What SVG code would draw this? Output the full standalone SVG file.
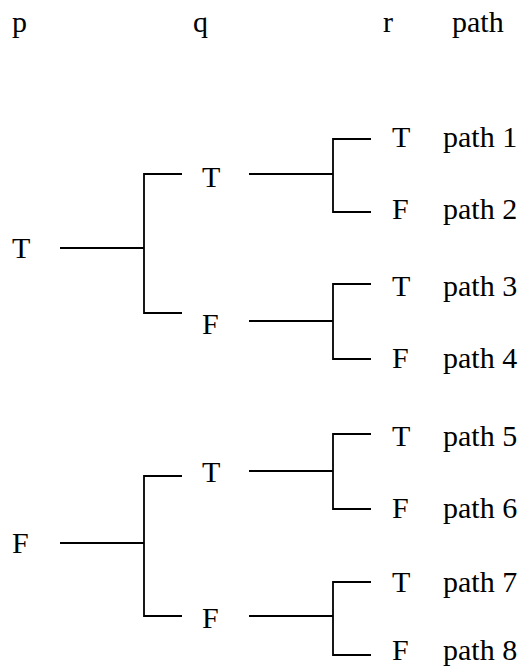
<svg xmlns="http://www.w3.org/2000/svg" width="525" height="668" viewBox="0 0 525 668">
<style>
.c path{fill:none;stroke:#000;stroke-width:1.8}
</style>
<rect width="525" height="668" fill="#fff"/>
<g font-family="Liberation Serif, DejaVu Serif, serif" font-size="30" fill="#000">
<g id="header">
<text x="12" y="32">p</text>
<text x="193" y="32">q</text>
<text x="383" y="32">r</text>
<text x="452" y="32">path</text>
</g>
<g id="pT"><text x="12" y="258">T</text></g>
<g id="pF"><text x="12" y="553">F</text></g>
<g id="qTT"><text x="202" y="187">T</text></g>
<g id="qTF"><text x="202" y="334">F</text></g>
<g id="qFT"><text x="202" y="482">T</text></g>
<g id="qFF"><text x="202" y="628">F</text></g>
<g id="r1"><text x="392" y="147">T</text><text x="443" y="147">path 1</text></g>
<g id="r2"><text x="392" y="219">F</text><text x="443" y="219">path 2</text></g>
<g id="r3"><text x="392" y="296">T</text><text x="443" y="296">path 3</text></g>
<g id="r4"><text x="392" y="368">F</text><text x="443" y="368">path 4</text></g>
<g id="r5"><text x="392" y="446">T</text><text x="443" y="446">path 5</text></g>
<g id="r6"><text x="392" y="518">F</text><text x="443" y="518">path 6</text></g>
<g id="r7"><text x="392" y="592">T</text><text x="443" y="592">path 7</text></g>
<g id="r8"><text x="392" y="660">F</text><text x="443" y="660">path 8</text></g>
</g>
<g id="connectors" class="c">
<path d="M60 248H144M182 174H144V313H182"/>
<path d="M60 543H144M182 476H144V616H182"/>
<path d="M249 174H333M371 139H333V212H371"/>
<path d="M249 321H333M371 284H333V359H371"/>
<path d="M249 471H333M371 434H333V509H371"/>
<path d="M249 616H333M371 582H333V655H371"/>
</g>
</svg>
